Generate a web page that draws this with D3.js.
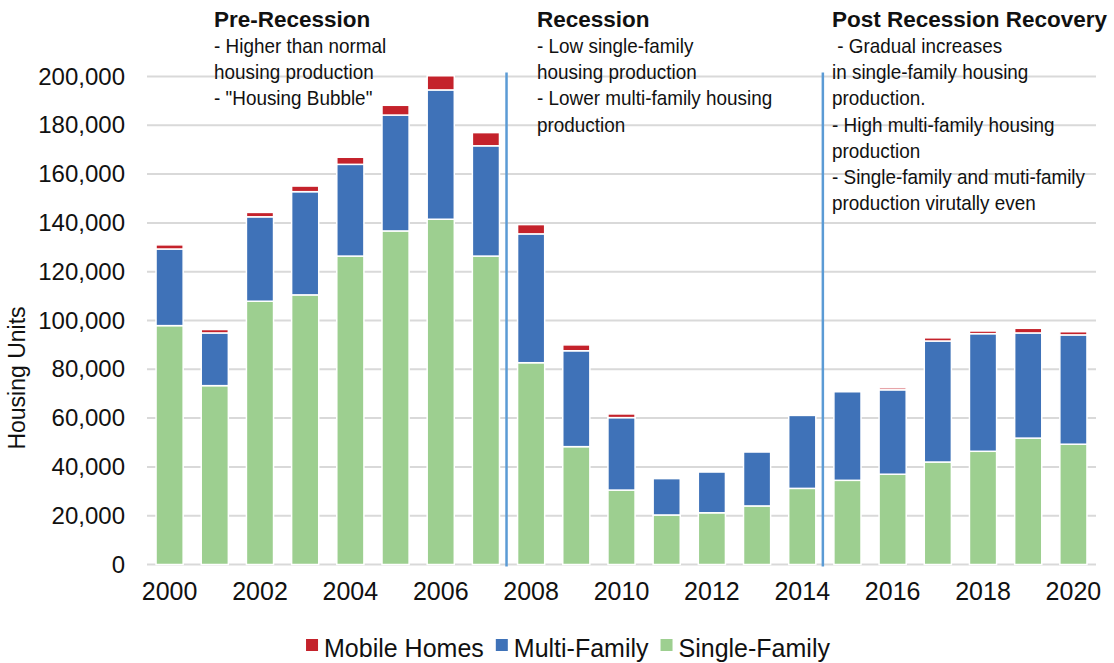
<!DOCTYPE html>
<html>
<head>
<meta charset="utf-8">
<script src="https://cdn.jsdelivr.net/npm/d3@7"></script>
<style>
  body { margin: 0; background: #fff; }
  svg { font-family: "Liberation Sans", Arial, sans-serif; }
</style>
</head>
<body>
<svg width="1114" height="663"></svg>
<script>
// data (housing units)
var years = ["2000","2001","2002","2003","2004","2005","2006","2007","2008","2009","2010",
             "2011","2012","2013","2014","2015","2016","2017","2018","2019","2020"];
var singleFamily = [97900, 73300, 107900, 110500, 126400, 136700, 141500, 126400, 82700, 48300, 30500,
                    20300, 21200, 24000, 31200, 34500, 37000, 42000, 46400, 51800, 49300];
var multiFamily = [31400, 21600, 34600, 42300, 37600, 47500, 53000, 45200, 52800, 39300, 29700,
                   14900, 16700, 22100, 29900, 36300, 34600, 49600, 48200, 43100, 44800];
var mobileHomes = [1700, 1400, 1800, 2300, 2900, 4000, 5800, 5400, 3800, 2400, 1500,
                   0, 0, 0, 0, 0, 800, 1300, 1100, 1900, 1300];
var yTicks = [0, 20000, 40000, 60000, 80000, 100000, 120000, 140000, 160000, 180000, 200000];
var xTickLabels = ["2000","2002","2004","2006","2008","2010","2012","2014","2016","2018","2020"];
var seriesNames = ["Single-Family", "Multi-Family", "Mobile Homes"];
var seriesColors = ["#9dcf90", "#3f72b8", "#c4222b"];
var legendOrder = ["Mobile Homes", "Multi-Family", "Single-Family"];

var periods = [
    {x: 214, title: "Pre-Recession", lines: ["- Higher than normal", "housing production", "- \"Housing Bubble\""]},
    {x: 537, title: "Recession", lines: ["- Low single-family", "housing production", "- Lower multi-family housing", "production"]},
    {x: 832, title: "Post Recession Recovery", lines: [" - Gradual increases", "in single-family housing", "production.",
        "- High multi-family housing", "production", "- Single-family and muti-family", "production virutally even"]}
];
var dividerAfter = ["2007", "2014"];

var rows = years.map(function (y, i) {
    return {year: y, "Single-Family": singleFamily[i], "Multi-Family": multiFamily[i], "Mobile Homes": mobileHomes[i]};
});

var svg = d3.select("svg"),
    margin = {top: 76.5, right: 18, bottom: 98.5, left: 147},
    width = +svg.attr("width") - margin.left - margin.right,
    height = +svg.attr("height") - margin.top - margin.bottom,
    g = svg.append("g").attr("transform", "translate(" + margin.left + "," + margin.top + ")");

var x = d3.scaleBand()
    .domain(years)
    .range([0, width])
    .paddingInner(0.4)
    .paddingOuter(0.2);

var y = d3.scaleLinear()
    .domain([0, 200000])
    .range([height, 0]);

// gridlines
g.append("g")
    .selectAll("line")
    .data(yTicks)
    .enter().append("line")
    .attr("x1", 0)
    .attr("x2", width)
    .attr("y1", function (d) { return y(d); })
    .attr("y2", function (d) { return y(d); })
    .attr("stroke", "#d9d9d9")
    .attr("stroke-width", 2);

// y axis labels
var yAxis = g.append("g")
    .attr("transform", "translate(-22,0)")
    .call(d3.axisLeft(y).tickValues(yTicks).tickSize(0).tickPadding(0).tickFormat(d3.format(",")));
yAxis.select(".domain").remove();
yAxis.selectAll("text")
    .attr("font-size", 24)
    .attr("fill", "#111")
    .attr("font-family", "Liberation Sans, Arial, sans-serif");

// x axis labels (every other year)
var xAxis = g.append("g")
    .attr("transform", "translate(0," + height + ")")
    .call(d3.axisBottom(x).tickValues(xTickLabels).tickSize(0).tickPadding(18));
xAxis.select(".domain").remove();
xAxis.selectAll("text")
    .attr("font-size", 25)
    .attr("fill", "#111")
    .attr("font-family", "Liberation Sans, Arial, sans-serif");

// stacked bars
var stack = d3.stack().keys(seriesNames);
var layers = stack(rows);

g.append("g")
    .selectAll("g")
    .data(layers)
    .enter().append("g")
    .attr("fill", function (d, i) { return seriesColors[i]; })
    .selectAll("rect")
    .data(function (d) { return d.filter(function (p) { return p[1] - p[0] > 0; }); })
    .enter().append("rect")
    .attr("x", function (d) { return x(d.data.year); })
    .attr("y", function (d) { return y(d[1]); })
    .attr("width", x.bandwidth())
    .attr("height", function (d) { return y(d[0]) - y(d[1]); })
    .attr("stroke", "#fff")
    .attr("stroke-width", 1.5);

// period dividers
g.append("g")
    .selectAll("line")
    .data(dividerAfter)
    .enter().append("line")
    .attr("x1", function (d) { return x(d) + x.bandwidth() + x.step() * x.paddingInner() / 2 - 2; })
    .attr("x2", function (d) { return x(d) + x.bandwidth() + x.step() * x.paddingInner() / 2 - 2; })
    .attr("y1", -4)
    .attr("y2", height + 2)
    .attr("stroke", "#5b9bd5")
    .attr("stroke-width", 2.5);

// y axis title
svg.append("text")
    .attr("transform", "translate(25,378) rotate(-90)")
    .attr("text-anchor", "middle")
    .attr("font-size", 23)
    .attr("fill", "#111")
    .text("Housing Units");

// period annotations
var notes = svg.append("g")
    .selectAll("g")
    .data(periods)
    .enter().append("g")
    .attr("transform", function (d) { return "translate(" + d.x + ",0)"; });

notes.append("text")
    .attr("y", 27)
    .attr("font-size", 22.5)
    .attr("font-weight", "bold")
    .attr("fill", "#111")
    .text(function (d) { return d.title; });

notes.append("g")
    .attr("transform", "scale(0.9,1)")
    .selectAll("text")
    .data(function (d) { return d.lines; })
    .enter().append("text")
    .attr("y", function (d, i) { return 53 + i * 26.2; })
    .attr("font-size", 21)
    .attr("fill", "#111")
    .attr("xml:space", "preserve")
    .style("white-space", "pre")
    .text(function (d) { return d; });

// legend
var legend = svg.append("g").attr("transform", "translate(0,648)");
var items = legend.selectAll("g")
    .data(legendOrder)
    .enter().append("g");

items.append("rect")
    .attr("width", 12)
    .attr("height", 12)
    .attr("y", -9)
    .attr("fill", function (d) { return seriesColors[seriesNames.indexOf(d)]; });

items.append("text")
    .attr("x", 18)
    .attr("y", 0)
    .attr("dy", "0.35em")
    .attr("font-size", 25)
    .attr("fill", "#111")
    .text(function (d) { return d; });

var cursor = 0;
items.each(function () {
    var w = 18 + d3.select(this).select("text").node().getComputedTextLength();
    d3.select(this).attr("transform", "translate(" + cursor + ",0)");
    cursor += w + 12;
});
cursor -= 12;
legend.attr("transform", "translate(" + (568 - cursor / 2) + ",648)");
</script>
</body>
</html>
